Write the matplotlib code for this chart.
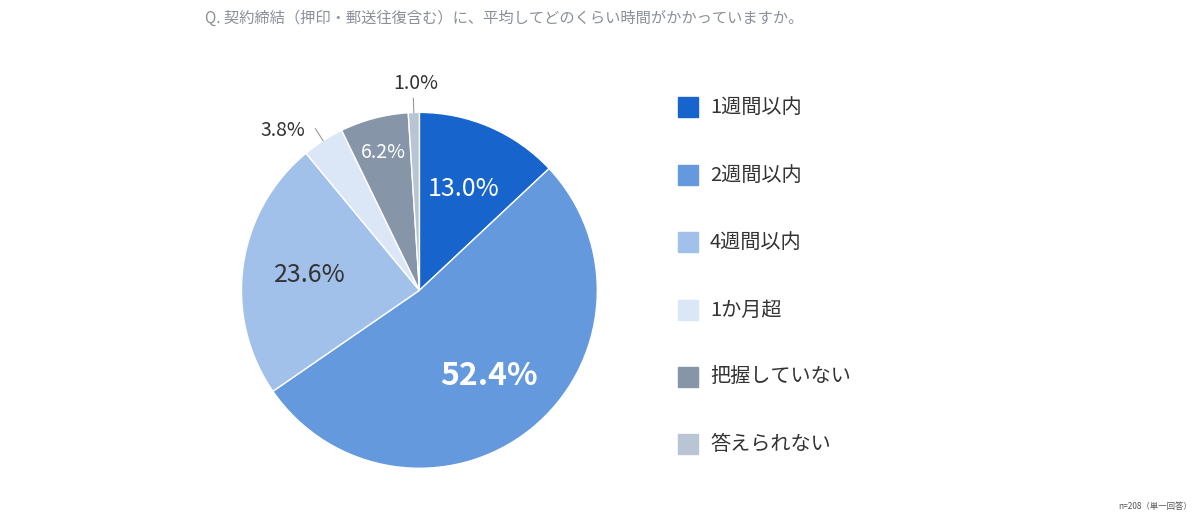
import matplotlib.pyplot as plt
import matplotlib.patches as mpatches
import numpy as np

plt.rcParams['font.family'] = ['Noto Sans CJK JP', 'DejaVu Sans']

categories = ["1週間以内", "2週間以内", "4週間以内", "1か月超", "把握していない", "答えられない"]
values = [13.0, 52.4, 23.6, 3.8, 6.2, 1.0]
colors = ["#1764cc", "#6499de", "#a2c1ea", "#dbe7f7", "#8795a8", "#b9c4d4"]

fig = plt.figure(figsize=(12, 5.18), dpi=100)
ax = fig.add_axes([0.201, 0.096, 0.297, 0.687])
wedges, _ = ax.pie(values, colors=colors, startangle=90, counterclock=False,
                   wedgeprops=dict(edgecolor="white", linewidth=1))
ax.set_xlim(-1, 1)
ax.set_ylim(-1, 1)
ax.set_aspect("equal")

# label positions from wedge mid-angles
total = sum(values)
start = 90.0
styles = [
    dict(r=0.62, color="white", size=18, weight="normal"),
    dict(r=0.62, color="white", size=23, weight="bold"),
    dict(r=0.62, color="#333333", size=18, weight="normal"),
    dict(r=1.25, color="#333333", size=14, weight="normal"),
    dict(r=0.8, color="white", size=14, weight="normal"),
    dict(r=1.2, color="#333333", size=14, weight="normal"),
]
for v, st in zip(values, styles):
    span = v / total * 360
    mid = np.deg2rad(start - span / 2)
    start -= span
    x, y = st["r"] * np.cos(mid), st["r"] * np.sin(mid)
    if st["r"] > 1:
        ax.plot([1.0 * np.cos(mid), 1.08 * np.cos(mid)],
                [1.0 * np.sin(mid), 1.08 * np.sin(mid)], color="#999999", lw=0.8,
                clip_on=False)
        if v == 1.0:
            x, y = -0.02, 1.16
        else:
            x, y = -0.77, 0.9
    ax.text(x, y, f"{v:.1f}%", ha="center", va="center", color=st["color"],
            fontsize=st["size"], fontweight=st["weight"])

# legend
rows = [107, 175, 242, 310, 377, 444]
for lab, c, yp in zip(categories, colors, rows):
    fy = 1 - yp / 518
    fig.patches.append(mpatches.Rectangle((678 / 1200, fy - 10 / 518), 20 / 1200, 20 / 518,
                                          transform=fig.transFigure, color=c))
    fig.text(710 / 1200, fy, lab, fontsize=14.5, color="#333333", va="center")

fig.text(205 / 1200, 1 - 18 / 518, "Q. 契約締結（押印・郵送往復含む）に、平均してどのくらい時間がかかっていますか。",
         fontsize=11, color="#8a8f99", va="center")
fig.text(1192 / 1200, 1 - 507 / 518, "n=208（単一回答）", fontsize=6, color="#555555",
         ha="right", va="center")

fig.savefig("out.png", dpi=100)
